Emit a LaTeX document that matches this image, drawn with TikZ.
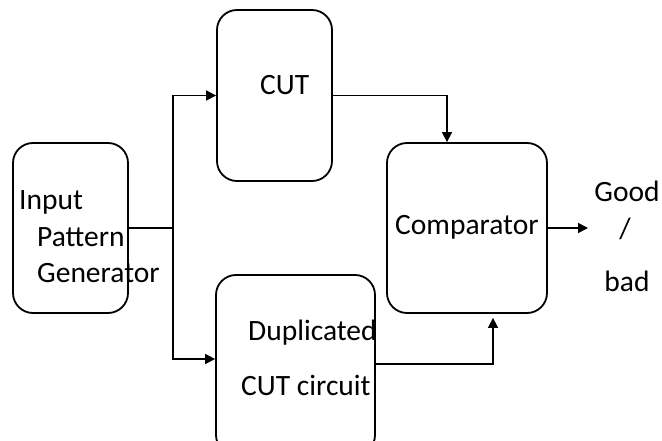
\documentclass[tikz,border=0pt]{standalone}
\usepackage{fontspec}
\setmainfont{Carlito}
\usetikzlibrary{arrows.meta}
\begin{document}
\begin{tikzpicture}[x=1pt,y=-1pt,
  box/.style={draw=black,line width=1.8pt,rounded corners=20pt,inner sep=0pt},
  lbl/.style={inner sep=0pt,anchor=base west,font=\fontsize{29.5}{35}\selectfont},
  conn/.style={draw=black,line width=1.6pt},
  arr/.style={conn,-{Triangle[length=10pt,width=10pt]}}]
\useasboundingbox (0,0) rectangle (662,441);
\fill[white] (0,0) rectangle (662,441);
% boxes
\node[box,minimum width=115pt,minimum height=170pt] (ipg) at (70.5,228) {};
\node[box,minimum width=115pt,minimum height=171pt] (cut) at (274.5,95.5) {};
\node[box,minimum width=160pt,minimum height=170pt] (comp) at (467,228) {};
\node[box,minimum width=159pt,minimum height=180pt] (dup) at (295.5,365) {};
% texts
\node[lbl] (t1) at (19,210) {Input};
\node[lbl] (t2) at (37,247) {Pattern};
\node[lbl] (t3) at (37,283) {Generator};
\node[lbl] (t4) at (260,95) {CUT};
\node[lbl] (t5) at (395,234) {Comparator};
\node[lbl] (t6) at (248,340) {Duplicated};
\node[lbl] (t7) at (241,395) {CUT circuit};
\node[lbl,anchor=base] (t8) at (627,202) {Good};
\node[lbl,anchor=base] (t9) at (625,238) {/};
\node[lbl,anchor=base] (t10) at (627,291) {bad};
% connectors
\coordinate (j) at (173,228);
\coordinate (out) at (588,228);
\draw[conn] (ipg.east) -- (j);
\draw[arr] (j) |- (cut.west);
\draw[arr] (j) |- ([yshift=6pt]dup.west);
\draw[arr] (cut.east) -| ([xshift=-20pt]comp.north);
\draw[arr] ([yshift=1pt]dup.east) -| ([xshift=26pt,yshift=-4pt]comp.south);
\draw[arr] (comp.east) -- (out);
\end{tikzpicture}
\end{document}
